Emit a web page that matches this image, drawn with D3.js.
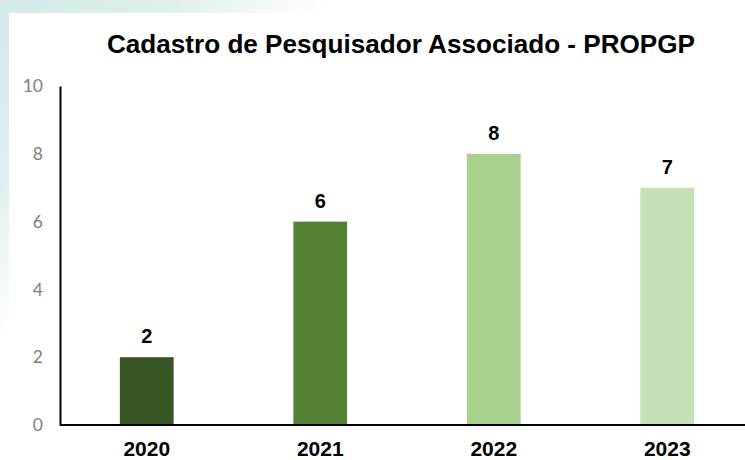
<!DOCTYPE html>
<html>
<head>
<meta charset="utf-8">
<script src="https://cdn.jsdelivr.net/npm/d3@7"></script>
<style>
  body { margin: 0; padding: 0; background: #fff; }
  svg { display: block; }
</style>
</head>
<body>
<div id="chart"></div>
<script>
// data
const years = ["2020", "2021", "2022", "2023"];
const counts = [2, 6, 8, 7];
const barColors = ["#375623", "#548235", "#a9d18e", "#c5e0b4"];
const yTicks = [0, 2, 4, 6, 8, 10];
const chartTitle = "Cadastro de Pesquisador Associado - PROPGP";

const W = 745, H = 460;
const margin = {top: 86, right: 0, bottom: 35, left: 60};

const svg = d3.select("#chart").append("svg")
    .attr("width", W)
    .attr("height", H);

// slide-like background: pale teal swoosh in top-left, white card on top
const defs = svg.append("defs");
const grad = defs.append("linearGradient")
    .attr("id", "bgGrad")
    .attr("x1", "0").attr("y1", "0")
    .attr("x2", "1").attr("y2", "0.6");
grad.append("stop").attr("offset", "0").attr("stop-color", "#d3eae8");
grad.append("stop").attr("offset", "0.17").attr("stop-color", "#dfefed");
grad.append("stop").attr("offset", "0.33").attr("stop-color", "#ffffff");

svg.append("rect")
    .attr("width", W).attr("height", H)
    .attr("fill", "url(#bgGrad)");

svg.append("rect")
    .attr("x", 9).attr("y", 13)
    .attr("width", W - 9).attr("height", H - 13)
    .attr("fill", "#ffffff");

// scales
const x = d3.scaleBand()
    .domain(years)
    .range([margin.left, margin.left + 173.5 * years.length])
    .paddingInner(0.69)
    .paddingOuter(0.345);

const y = d3.scaleLinear()
    .domain([0, 10])
    .range([H - margin.bottom, margin.top]);

// title
svg.append("text")
    .attr("x", 107)
    .attr("y", 53)
    .attr("textLength", 588)
    .attr("lengthAdjust", "spacingAndGlyphs")
    .style("font-family", "'Liberation Sans', Arial, sans-serif")
    .style("font-weight", "bold")
    .style("font-size", "25px")
    .attr("fill", "#000")
    .text(chartTitle);

// bars
svg.selectAll(".bar")
    .data(counts)
    .enter()
    .append("rect")
    .attr("class", "bar")
    .attr("x", (d, i) => x(years[i]))
    .attr("y", d => y(d))
    .attr("width", x.bandwidth())
    .attr("height", d => y(0) - y(d))
    .attr("fill", (d, i) => barColors[i]);

// value labels
svg.selectAll(".val")
    .data(counts)
    .enter()
    .append("text")
    .attr("class", "val")
    .attr("x", (d, i) => x(years[i]) + x.bandwidth() / 2)
    .attr("y", d => y(d) - 14)
    .attr("text-anchor", "middle")
    .style("font-family", "'Liberation Sans', Arial, sans-serif")
    .style("font-weight", "bold")
    .style("font-size", "20px")
    .attr("fill", "#000")
    .text(d => d);

// y axis
const yAxis = svg.append("g")
    .attr("transform", `translate(${margin.left},0)`)
    .call(d3.axisLeft(y).tickValues(yTicks).tickSize(0).tickPadding(17));
yAxis.select(".domain")
    .attr("stroke", "#000")
    .attr("stroke-width", 2);
yAxis.selectAll("text")
    .style("font-family", "Lato, 'Liberation Sans', sans-serif")
    .style("font-size", "17.5px")
    .attr("fill", "#7f7f7f");

// x axis
const xAxis = svg.append("g")
    .attr("transform", `translate(0,${y(0)})`)
    .call(d3.axisBottom(x).tickSize(0).tickPadding(16));
xAxis.select(".domain")
    .attr("d", `M${margin.left},0H${W}`)
    .attr("stroke", "#000")
    .attr("stroke-width", 2);
xAxis.selectAll("text")
    .style("font-family", "'Liberation Sans', Arial, sans-serif")
    .style("font-weight", "bold")
    .style("font-size", "21px")
    .attr("fill", "#000");
</script>
</body>
</html>
